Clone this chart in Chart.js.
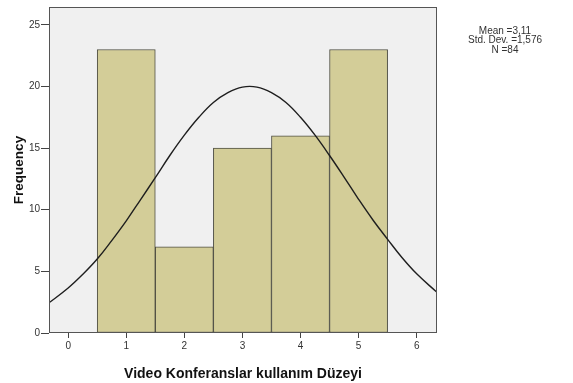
<!DOCTYPE html>
<html>
<head>
<meta charset="utf-8">
<script src="https://cdn.jsdelivr.net/npm/chart.js@4/dist/chart.umd.min.js"></script>
<style>
  html, body { margin: 0; padding: 0; background: #fff; }
  #wrap { width: 573px; height: 383px; position: relative; }
</style>
</head>
<body>
<div id="wrap"><canvas id="c"></canvas></div>
<script>
// Histogram bins (bin centres) and their frequencies
const binCenters = [1, 2, 3, 4, 5];
const frequencies = [23, 7, 15, 16, 23];

// Normal curve
const curveX = [-0.33, 0, 0.25, 0.5, 0.75, 1, 1.25, 1.5, 1.75, 2, 2.25, 2.5, 2.75, 3, 3.25,
                3.5, 3.75, 4, 4.25, 4.5, 4.75, 5, 5.25, 5.5, 5.75, 6, 6.35];
const curveY = [2.45, 3.65, 4.75, 6.0, 7.5, 9.1, 10.85, 12.6, 14.4, 16.05, 17.5, 18.7, 19.5, 19.95, 19.95,
                19.5, 18.7, 17.5, 16.05, 14.4, 12.65, 10.85, 9.15, 7.6, 6.1, 4.8, 3.3];

const statLines = ['Mean =3,11', 'Std. Dev. =1,576', 'N =84'];
const xTitle = 'Video Konferanslar kullanım Düzeyi';
const yTitle = 'Frequency';

const FONT = '"Liberation Sans", Arial, sans-serif';

// Plot background and frame
const backgroundPlugin = {
    id: 'bg',
    beforeDraw: (chart) => {
        const {ctx, chartArea} = chart;
        ctx.save();
        ctx.fillStyle = '#ffffff';
        ctx.fillRect(0, 0, chart.width, chart.height);
        ctx.fillStyle = '#f0f0f0';
        ctx.fillRect(chartArea.left, chartArea.top, chartArea.right - chartArea.left, chartArea.bottom - chartArea.top);
        ctx.restore();
    },
    afterDatasetsDraw: (chart) => {
        const {ctx, chartArea} = chart;
        ctx.save();
        ctx.strokeStyle = '#555555';
        ctx.lineWidth = 1;
        ctx.strokeRect(chartArea.left + 0.5, chartArea.top + 0.5,
            chartArea.right - chartArea.left - 1, chartArea.bottom - chartArea.top - 1);
        ctx.restore();
    }
};

// Stats box at the top right
const statsPlugin = {
    id: 'stats',
    afterDraw: (chart) => {
        const ctx = chart.ctx;
        ctx.save();
        ctx.font = '10px ' + FONT;
        ctx.fillStyle = '#333333';
        ctx.textAlign = 'center';
        ctx.textBaseline = 'middle';
        statLines.forEach((t, i) => ctx.fillText(t, 505, 31 + i * 9.4));
        ctx.restore();
    }
};

new Chart(document.getElementById('c'), {
    type: 'bar',
    data: {
        datasets: [
            {
                type: 'line',
                data: curveX.map((x, i) => ({x: x, y: curveY[i]})),
                borderColor: '#1e1e1e',
                borderWidth: 1.4,
                pointRadius: 0,
                tension: 0.4,
                fill: false,
                order: 0
            },
            {
                type: 'bar',
                data: binCenters.map((x, i) => ({x: x, y: frequencies[i]})),
                backgroundColor: '#d3cd98',
                borderColor: '#4e4e42',
                borderWidth: 1,
                borderSkipped: false,
                barPercentage: 1,
                categoryPercentage: 1,
                order: 1
            }
        ]
    },
    options: {
        responsive: true,
        maintainAspectRatio: false,
        animation: false,
        layout: { padding: { left: 0, top: 5, right: 136, bottom: 0 } },
        scales: {
            x: {
                type: 'linear',
                min: -0.33,
                max: 6.35,
                offset: false,
                grid: { offset: false, drawOnChartArea: false, drawTicks: true, tickLength: 5, color: '#444' },
                border: { display: false },
                ticks: {
                    stepSize: 1,
                    includeBounds: false,
                    color: '#333',
                    padding: 2,
                    font: { family: FONT, size: 10 }
                },
                title: {
                    display: true,
                    text: xTitle,
                    color: '#111',
                    padding: { top: 7, bottom: 0 },
                    font: { family: FONT, size: 14, weight: 'bold' }
                },
                afterFit: (s) => { s.height = 50; }
            },
            y: {
                min: 0,
                max: 26.45,
                grid: { drawOnChartArea: false, drawTicks: true, tickLength: 8, color: '#444' },
                border: { display: false },
                ticks: {
                    stepSize: 5,
                    includeBounds: false,
                    color: '#333',
                    padding: 1,
                    font: { family: FONT, size: 10 }
                },
                title: {
                    display: true,
                    text: yTitle,
                    color: '#111',
                    padding: { top: 11, bottom: 2 },
                    font: { family: FONT, size: 13.5, weight: 'bold' }
                },
                afterFit: (s) => { s.width = 49; }
            }
        },
        plugins: {
            legend: { display: false },
            tooltip: { enabled: false }
        }
    },
    plugins: [backgroundPlugin, statsPlugin]
});
</script>
</body>
</html>
